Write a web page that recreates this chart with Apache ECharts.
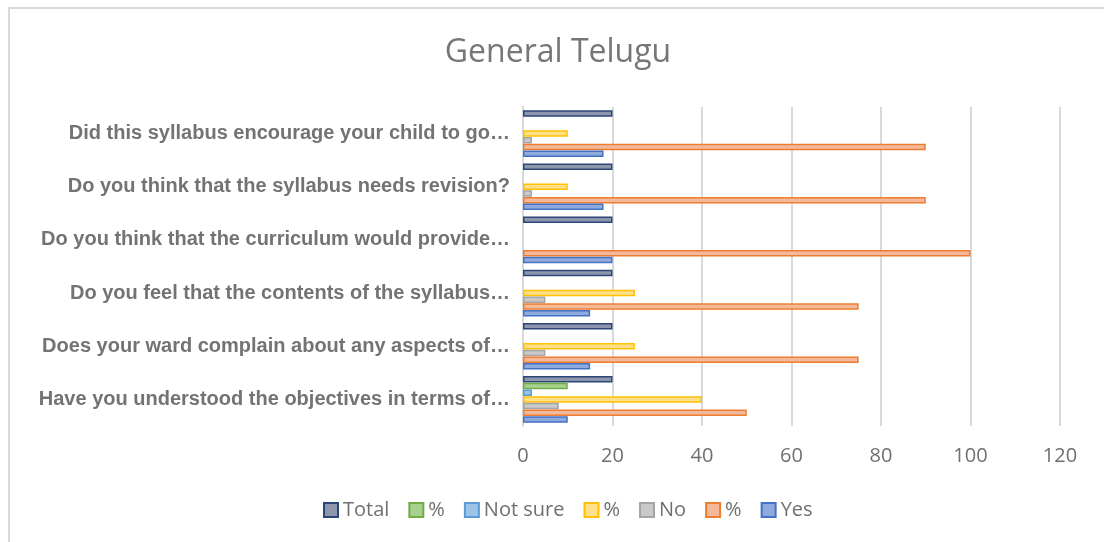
<!DOCTYPE html>
<html>
<head>
    <meta charset="UTF-8">
    <title>General Telugu</title>
    <script src="https://cdn.jsdelivr.net/npm/echarts@6/dist/echarts.min.js"></script>
    <style>
        html, body { margin: 0; padding: 0; background: #fff; }
        #frame {
            position: absolute; left: 8px; top: 7px; width: 1100px; height: 540px;
            border-left: 2px solid #d9d9d9; border-top: 2px solid #d9d9d9;
        }
        #main { position: absolute; left: 0; top: 0; width: 1104px; height: 542px; }
    </style>
</head>
<body>
    <div id="frame"></div>
    <div id="main"></div>

    <script type="text/javascript">
        // categories, bottom to top
        let questions = [
            'Have you understood the objectives in terms of…',
            'Does your ward complain about any aspects of…',
            'Do you feel that the contents of the syllabus…',
            'Do you think that the curriculum would provide…',
            'Do you think that the syllabus needs revision?',
            'Did this syllabus encourage your child to go…'
        ];
        let xTicks = [0, 20, 40, 60, 80, 100, 120];

        let yesVals      = [10, 15, 15, 20, 18, 18];
        let yesPct       = [50, 75, 75, 100, 90, 90];
        let noVals       = [8, 5, 5, 0, 2, 2];
        let noPct        = [40, 25, 25, 0, 10, 10];
        let notSureVals  = [2, 0, 0, 0, 0, 0];
        let notSurePct   = [10, 0, 0, 0, 0, 0];
        let totalVals    = [20, 20, 20, 20, 20, 20];

        // legend order (top of group first)
        let seriesDefs = [
            { key: 'Total',    label: 'Total',    data: totalVals,   fill: '#8d96ac', line: '#2c4677' },
            { key: 'pctNS',    label: '%',        data: notSurePct,  fill: '#a9d18e', line: '#70ad47' },
            { key: 'Not sure', label: 'Not sure', data: notSureVals, fill: '#9dc3e6', line: '#5b9bd5' },
            { key: 'pctNo',    label: '%',        data: noPct,       fill: '#ffe08a', line: '#ffc000' },
            { key: 'No',       label: 'No',       data: noVals,      fill: '#c9c9c9', line: '#a5a5a5' },
            { key: 'pctYes',   label: '%',        data: yesPct,      fill: '#f4b89a', line: '#ed7d31' },
            { key: 'Yes',      label: 'Yes',      data: yesVals,     fill: '#8faadc', line: '#4472c4' }
        ];
        let labelOf = {};
        seriesDefs.forEach(s => { labelOf[s.key] = s.label; });

        let myChart = echarts.init(document.getElementById('main'));

        let series = seriesDefs.map(s => ({
            name: s.key,
            type: 'bar',
            // zero values draw nothing (no border sliver)
            data: s.data.map(v => v === 0 ? { value: v, itemStyle: { borderWidth: 0, opacity: 0 } } : v),
            barWidth: 6.5,
            barGap: '3%',
            itemStyle: { color: s.fill, borderColor: s.line, borderWidth: 1.5 }
        }));

        myChart.setOption({
            animation: false,
            title: {
                text: 'General Telugu',
                left: 553,
                top: 32,
                textAlign: 'center',
                textStyle: { fontFamily: 'Open Sans', fontSize: 32, fontWeight: 'normal', color: '#767676' }
            },
            legend: {
                data: seriesDefs.map(s => s.key),
                formatter: name => labelOf[name],
                bottom: 17,
                left: 318,
                itemWidth: 14,
                itemHeight: 14,
                itemGap: 19,
                icon: 'rect',
                textStyle: { fontFamily: 'Open Sans', fontSize: 20, color: '#6f6f6f' }
            },
            grid: { left: 523, right: 44, top: 107, bottom: 116, containLabel: false },
            xAxis: {
                type: 'value',
                min: xTicks[0],
                max: xTicks[xTicks.length - 1],
                interval: 20,
                axisLine: { show: false },
                axisTick: { show: false },
                axisLabel: { fontFamily: 'Open Sans', fontSize: 20, color: '#6f6f6f', margin: 20 },
                splitLine: { lineStyle: { color: '#d9d9d9', width: 2 } }
            },
            yAxis: {
                type: 'category',
                data: questions,
                axisLine: { show: true, lineStyle: { color: '#d9d9d9', width: 2 } },
                axisTick: { show: false },
                axisLabel: {
                    fontFamily: 'Liberation Sans', fontSize: 20, fontWeight: 'bold',
                    color: '#737373', margin: 13
                }
            },
            series: series
        });
    </script>
</body>
</html>
